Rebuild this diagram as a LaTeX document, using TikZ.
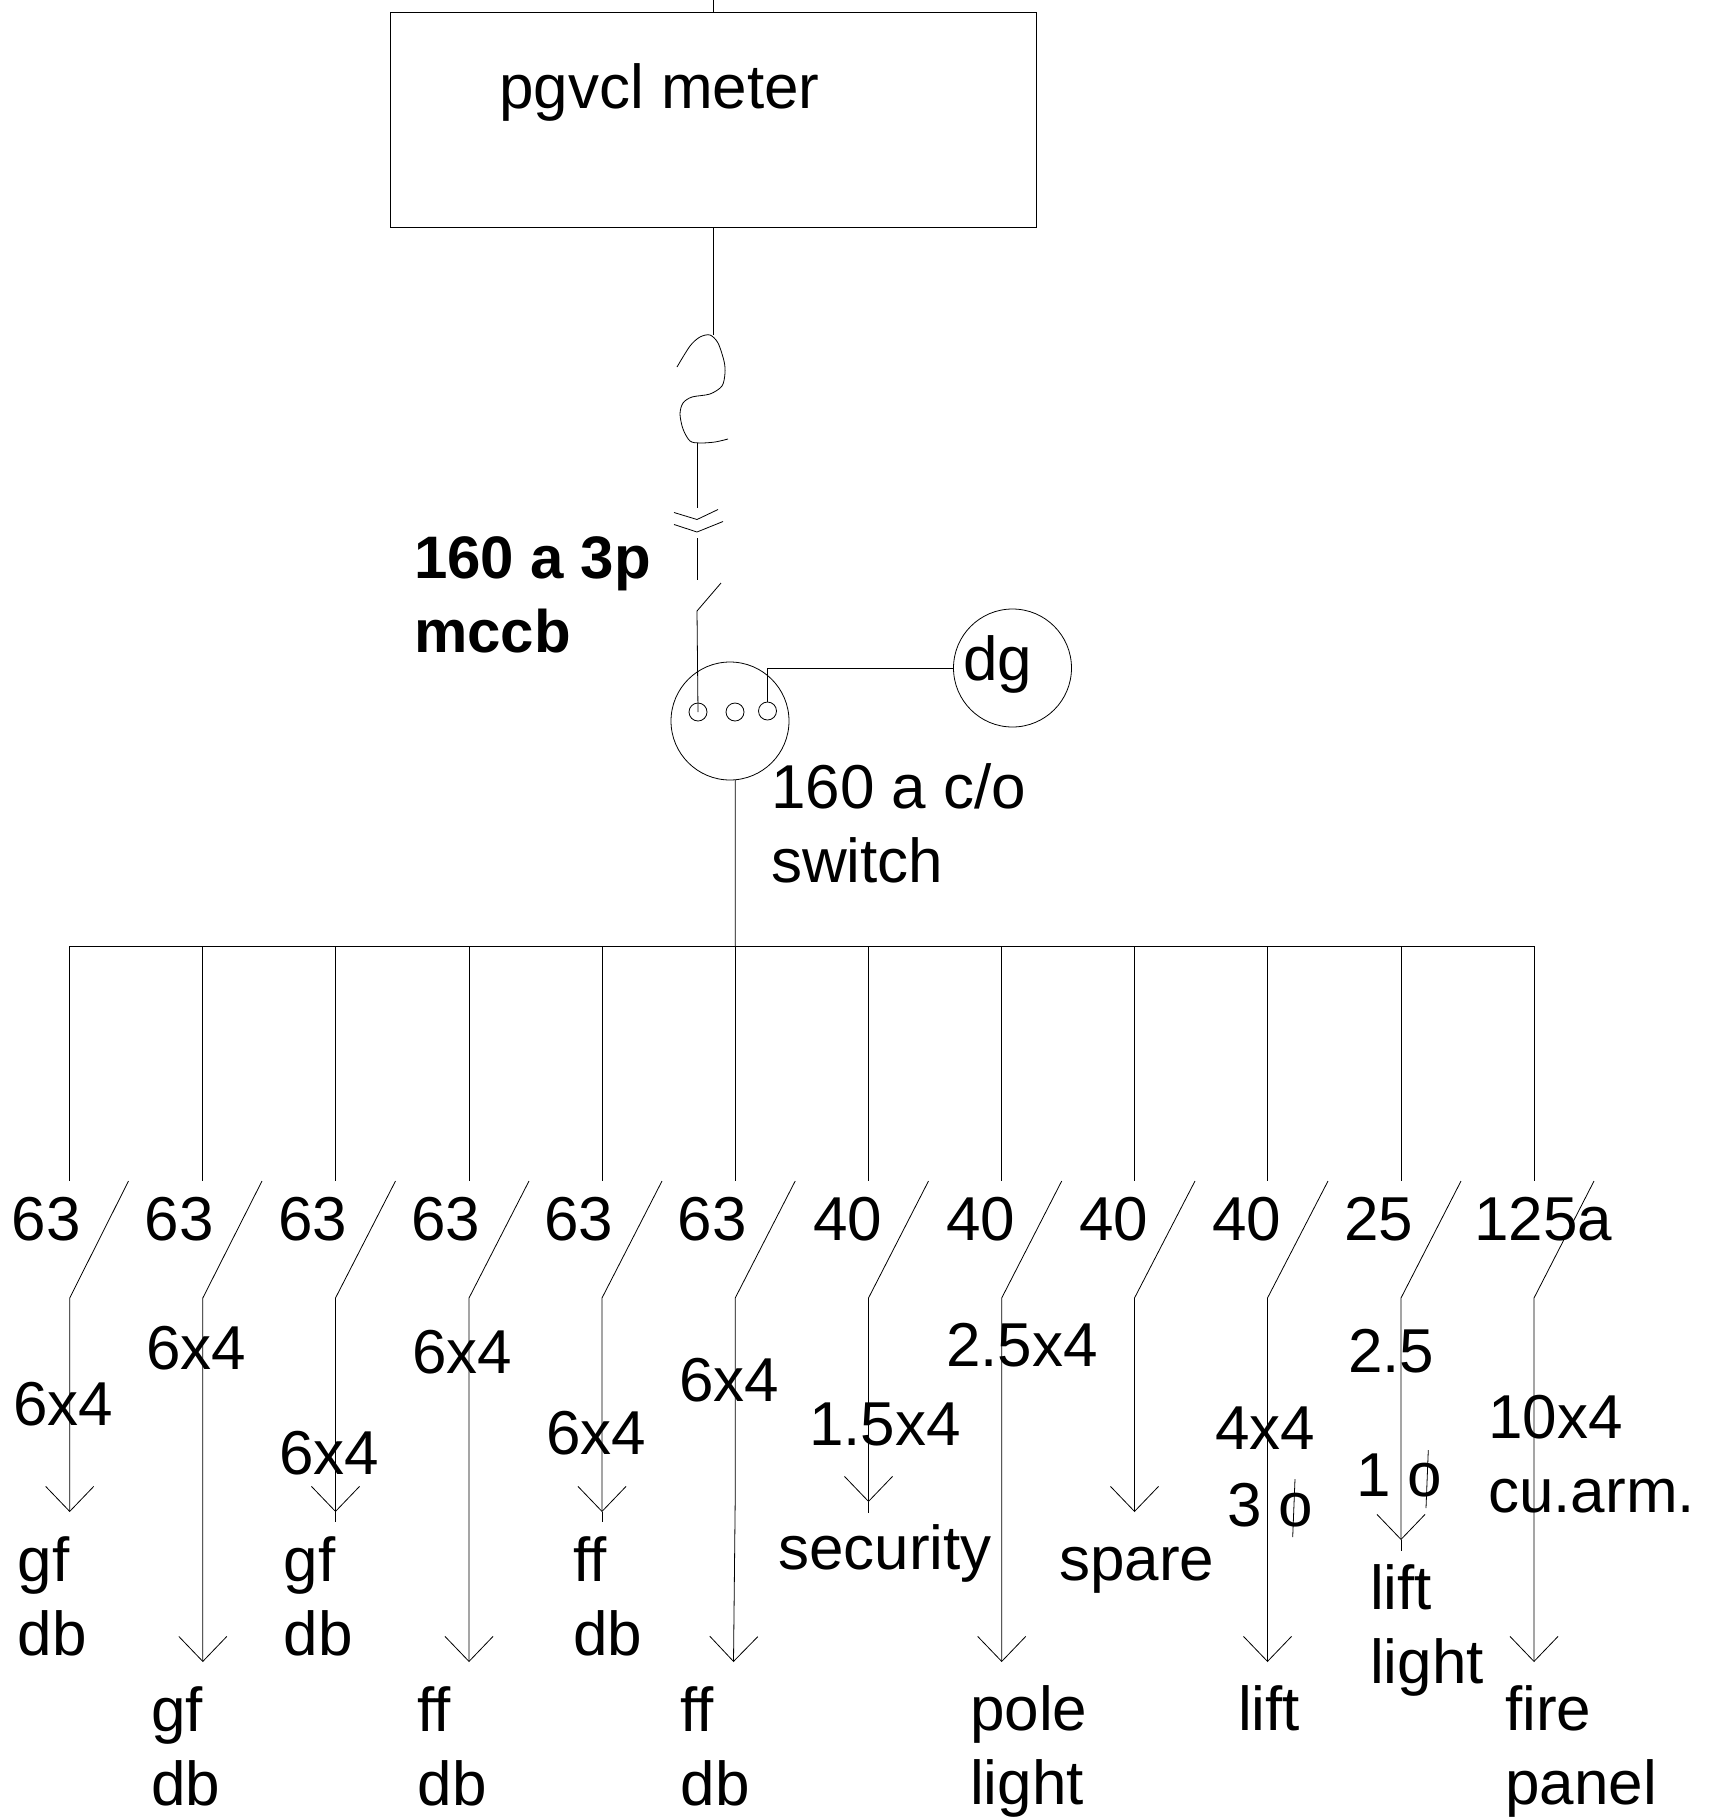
\documentclass[tikz,border=0pt]{standalone}
\usepackage{fontspec}
\setmainfont{Liberation Sans}
\usetikzlibrary{arrows.meta}
\tikzset{
   wire/.style={line width=.8pt},
   feed/.style={wire,-{Straight Barb[length=25pt,width=48pt,line width=.8pt]}},
   lbl/.style={font=\fontsize{62}{74}\selectfont,anchor=base west,inner sep=0pt,align=left},
   pole/.style={draw,wire,circle,minimum size=18pt,inner sep=0pt},
   bigcircle/.style={draw,wire,circle,minimum size=118pt,inner sep=0pt}
}
\begin{document}
\begin{tikzpicture}[x=1pt,y=-1pt]
   \useasboundingbox (0,0) rectangle (1712,1818);
   \node[draw,wire,minimum width=646pt,minimum height=215.5pt,inner sep=0pt] (meter) at (713.4,119.9) {};
   \node[lbl] (meterlbl) at (499,108) {pgvcl meter};
   \coordinate (supply) at (713.4,0);
   \draw[wire] (supply) -- (meter.north);
   \coordinate (fusetop) at (713.4,335);
   \draw[wire] (meter.south) -- (fusetop);
   \draw[wire] plot[smooth] coordinates {(677,367) (690,346) (700,337) (710,335) (718,343)
   (724,361) (725,373) (722,386) (710,394) (692,397) (683,403) (680,414) (683,429)
   (690,441) (700,443) (715,442) (728,439)};
   \draw[wire] (697,443) coordinate (fusebot) -- (697,508) coordinate (incoming);
   \draw[wire] (674,512.5) -- (697,519.5) -- (718,509.5);
   \draw[wire] (674,524.5) -- (697,532) -- (723,521.5);
   \draw[wire] (697,538) -- (697,580);
   \draw[wire] (721,583) -- (697,611) coordinate (mccbknee);
   \node[lbl,font=\fontsize{60}{74}\selectfont\bfseries] (mccb) at (414,652.5) {160 a 3p\\mccb};
   \node[bigcircle] (cos) at (730,721) {};
   \node[pole] (pole1) at (698,712) {};
   \node[pole] (pole2) at (735,712) {};
   \node[pole] (pole3) at (767.5,711) {};
   \node[bigcircle] (dg) at (1012.5,668) {};
   \node[lbl] (dglbl) at (963,680) {dg};
   \draw[wire] (mccbknee) -- (pole1.center);
   \draw[wire] (pole3.north) |- (dg.west);
   \node[lbl] (coslbl) at (771,882) {160 a c/o\\switch};
   \draw[wire] (69.7,946) coordinate (bus1) -- (69.7,1181) coordinate (stem1);
   \draw[wire] (202.8,946) coordinate (bus2) -- (202.8,1181) coordinate (stem2);
   \draw[wire] (335.5,946) coordinate (bus3) -- (335.5,1181) coordinate (stem3);
   \draw[wire] (469,946) coordinate (bus4) -- (469,1181) coordinate (stem4);
   \draw[wire] (602,946) coordinate (bus5) -- (602,1181) coordinate (stem5);
   \draw[wire] (735.2,946) coordinate (bus6) -- (735.2,1181) coordinate (stem6);
   \draw[wire] (868.5,946) coordinate (bus7) -- (868.5,1181) coordinate (stem7);
   \draw[wire] (1001.7,946) coordinate (bus8) -- (1001.7,1181) coordinate (stem8);
   \draw[wire] (1134.5,946) coordinate (bus9) -- (1134.5,1181) coordinate (stem9);
   \draw[wire] (1267.5,946) coordinate (bus10) -- (1267.5,1181) coordinate (stem10);
   \draw[wire] (1401,946) coordinate (bus11) -- (1401,1181) coordinate (stem11);
   \draw[wire] (1534,946) coordinate (bus12) -- (1534,1181) coordinate (stem12);
   \draw[wire] (bus1) -- (bus12);
   \draw[wire] (cos.-85) -- (bus6);
   \draw[feed] (128.5,1181) -- (69.7,1298) -- (69.7,1512) coordinate (tip1);
   \draw[feed] (262,1181) -- (202.8,1298) -- (202.8,1662) coordinate (tip2);
   \draw[feed] (395.5,1181) -- (335.5,1298) -- (335.5,1512) coordinate (tip3);
   \draw[feed] (529,1181) -- (469,1298) -- (469,1662) coordinate (tip4);
   \draw[feed] (662,1181) -- (602,1298) -- (602,1512) coordinate (tip5);
   \draw[feed] (795.2,1181) -- (735.2,1298) -- (735.2,1500) -- (733.5,1662) coordinate (tip6);
   \draw[feed] (928.5,1181) -- (868.5,1298) -- (868.5,1502) coordinate (tip7);
   \draw[feed] (1061.7,1181) -- (1001.7,1298) -- (1001.7,1662) coordinate (tip8);
   \draw[feed] (1195,1181) -- (1134.5,1298) -- (1134.5,1512) coordinate (tip9);
   \draw[feed] (1328,1181) -- (1267.5,1298) -- (1267.5,1662) coordinate (tip10);
   \draw[feed] (1461,1181) -- (1401,1298) -- (1401,1540) coordinate (tip11);
   \draw[feed] (1594,1181) -- (1534,1298) -- (1534,1662) coordinate (tip12);
   \draw[wire] (tip3) -- (335.5,1522);
   \draw[wire] (tip5) -- (602,1522);
   \draw[wire] (tip7) -- (868.5,1513);
   \draw[wire] (tip11) -- (1401,1551);
   \draw[wire] (1295,1479) -- (1292.7,1537);
   \draw[wire] (1428.3,1450) -- (1426,1508);
   \node[lbl] (amps1) at (11.5,1240) {63};
   \node[lbl] (amps2) at (144.5,1240) {63};
   \node[lbl] (amps3) at (278,1240) {63};
   \node[lbl] (amps4) at (411,1240) {63};
   \node[lbl] (amps5) at (544,1240) {63};
   \node[lbl] (amps6) at (677.5,1240) {63};
   \node[lbl] (amps7) at (813,1240) {40};
   \node[lbl] (amps8) at (946,1240) {40};
   \node[lbl] (amps9) at (1079,1240) {40};
   \node[lbl] (amps10) at (1212,1240) {40};
   \node[lbl] (amps11) at (1344,1240) {25};
   \node[lbl] (amps12) at (1474,1240) {125a};
   \node[lbl] (cable1) at (13,1425) {6x4};
   \node[lbl] (cable2) at (146,1369.5) {6x4};
   \node[lbl] (cable3) at (279,1474.5) {6x4};
   \node[lbl] (cable4) at (412,1373.5) {6x4};
   \node[lbl] (cable5) at (546,1454.5) {6x4};
   \node[lbl] (cable6) at (679,1401) {6x4};
   \node[lbl] (cable7) at (809,1445) {1.5x4};
   \node[lbl] (cable8) at (946,1366.5) {2.5x4};
   \node[lbl] (cable10) at (1215,1449) {4x4};
   \node[lbl] (phase10) at (1227,1526) {3 o};
   \node[lbl] (cable11) at (1348,1372.5) {2.5};
   \node[lbl] (phase11) at (1356,1496) {1 o};
   \node[lbl] (cable12) at (1488,1512) {10x4\\cu.arm.};
   \node[lbl] (load1) at (17.5,1655) {gf\\db};
   \node[lbl] (load2) at (151,1805) {gf\\db};
   \node[lbl] (load3) at (283.5,1655) {gf\\db};
   \node[lbl] (load4) at (417.5,1805) {ff\\db};
   \node[lbl] (load5) at (573,1655) {ff\\db};
   \node[lbl] (load6) at (680.5,1805) {ff\\db};
   \node[lbl] (load7) at (778,1569) {security};
   \node[lbl] (load8) at (970,1804) {pole\\light};
   \node[lbl] (load9) at (1059,1580) {spare};
   \node[lbl] (load10) at (1238,1730.5) {lift};
   \node[lbl] (load11) at (1370,1683) {lift\\light};
   \node[lbl] (load12) at (1505,1804) {fire\\panel};
 \end{tikzpicture}
\end{document}
